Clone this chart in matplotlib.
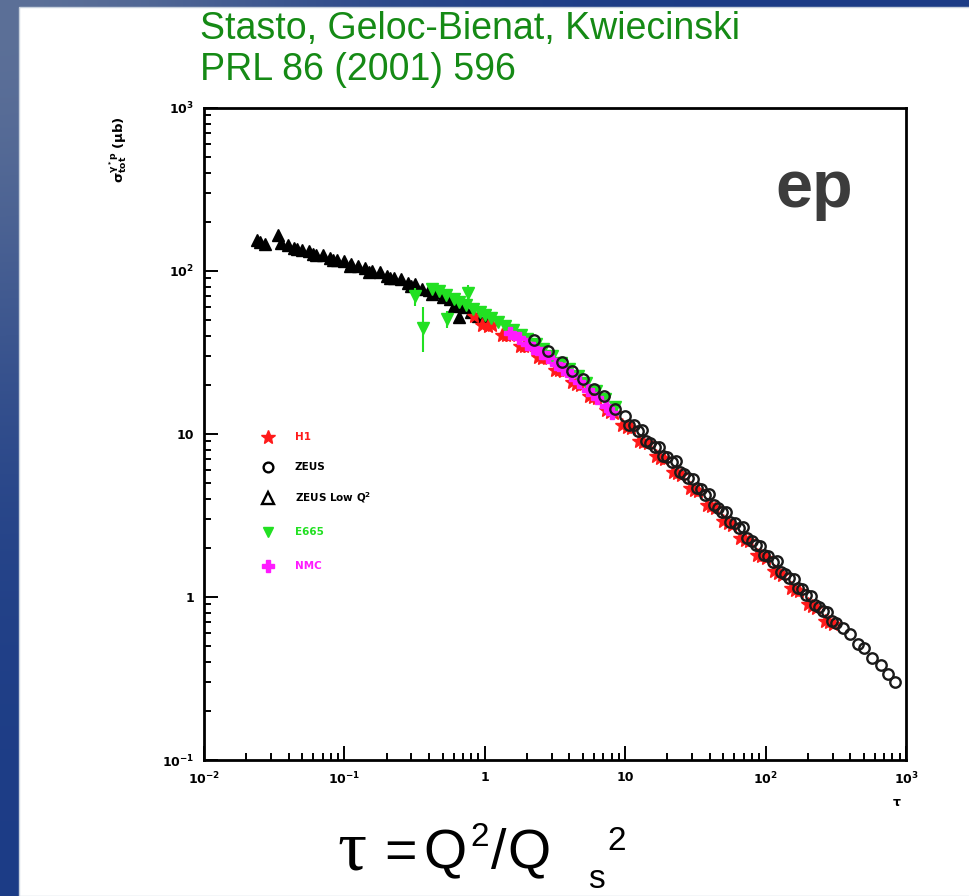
import numpy as np
import matplotlib
matplotlib.use("Agg")
import matplotlib.pyplot as plt
from matplotlib.patches import Rectangle
from matplotlib.ticker import NullFormatter, LogLocator

# ---------------- data ----------------
# ZEUS low Q^2
zeus_low_tau = [0.024, 0.0251, 0.027, 0.0339, 0.0355, 0.0398, 0.0437, 0.046, 0.0501, 0.0562,
                0.06, 0.0631, 0.0708, 0.0794, 0.083, 0.0891, 0.1, 0.11, 0.112, 0.126,
                0.141, 0.15, 0.158, 0.178, 0.2, 0.21, 0.224, 0.251, 0.282, 0.3,
                0.316, 0.355, 0.398, 0.42, 0.447, 0.501, 0.562, 0.6, 0.631, 0.66,
                0.708, 0.794, 0.891, 1.0]
zeus_low_sigma = [155, 151, 147, 166, 148, 145, 138, 137, 135, 132,
                  127, 126, 126, 120, 116, 117, 115, 108, 110, 107,
                  105, 99, 100, 99, 93, 90, 91, 89, 85, 81,
                  83, 78, 76, 72, 74, 69, 67, 61, 63, 52,
                  60, 56, 53, 50]

# E665
e665_tau = [0.32, 0.36, 0.42, 0.47, 0.53, 0.54, 0.60, 0.66, 0.74, 0.76,
            0.82, 0.92, 1.0, 1.1, 1.25, 1.4, 1.6, 1.8, 2.0, 2.3,
            2.6, 3.0, 3.5, 4.0, 4.6, 5.3, 6.2, 7.2, 8.5]
e665_sigma = [70, 45, 77.6, 75, 70.8, 51, 67.6, 64.6, 61.6, 73,
              58.8, 55.7, 53.7, 51.5, 48.5, 46, 43.5, 40.7, 38.4, 35.6,
              33.1, 30.2, 27.3, 25.1, 22.7, 20.6, 18.4, 16.5, 14.6]
# E665 points with visible error bars
e665_bar_tau = [0.32, 0.36, 0.54, 0.76]
e665_bar_sigma = [70, 45, 51, 73]
e665_bar_lo = [61, 32, 45, 64]
e665_bar_hi = [79, 60, 57, 82]

# NMC
nmc_tau = [1.5, 1.75, 2.0, 2.2, 2.5, 2.8, 3.2, 3.6, 4.1, 4.7, 5.4, 6.3, 7.3, 8.1]
nmc_sigma = [41.7, 38.9, 35.5, 33.9, 31.6, 29.5, 26.9, 25.1, 22.9, 20.9, 18.6, 16.6, 14.8, 13.5]

# H1
h1_tau = [0.832, 0.955, 1.047, 1.122, 1.318, 1.413, 1.514, 1.778, 1.905, 2.042,
          2.399, 2.57, 2.754, 3.162, 3.388, 3.631, 4.169, 4.467, 4.786, 5.495,
          5.888, 6.31, 7.244, 7.762, 8.318, 9.55, 10.23, 10.96, 12.59, 13.49,
          14.45, 16.6, 17.78, 19.05, 21.88, 23.44, 25.12, 28.84, 30.9, 33.11,
          38.02, 40.74, 43.65, 50.12, 53.7, 57.54, 66.07, 70.8, 75.86, 87.1,
          93.3, 100, 114.8, 123, 131.8, 151.4, 162.2, 173.8, 199.5, 213.8,
          229.1, 263, 281.8, 302]
h1_sigma = [53.2, 46.7, 46.3, 46.5, 40.4, 40.5, 40.6, 34.9, 34.8, 34.6,
            29.6, 29.4, 29.1, 24.8, 24.6, 24.3, 20.7, 20.4, 20.1, 17.1,
            16.8, 16.6, 14.0, 13.7, 13.5, 11.35, 11.1, 10.9, 9.12, 8.93,
            8.75, 7.31, 7.16, 7.01, 5.86, 5.74, 5.62, 4.67, 4.56, 4.45,
            3.69, 3.60, 3.52, 2.92, 2.85, 2.78, 2.31, 2.25, 2.20, 1.82,
            1.78, 1.74, 1.44, 1.41, 1.37, 1.14, 1.11, 1.09, 0.90, 0.88,
            0.86, 0.714, 0.70, 0.686]

# ZEUS
zeus_tau = [2.239, 2.818, 3.548, 4.169, 5.012, 6.026, 7.079, 8.511, 10, 10.72,
            11.48, 13.18, 14.13, 15.14, 17.38, 18.62, 19.95, 22.91, 24.55, 26.3,
            30.2, 32.36, 34.67, 39.81, 42.66, 45.71, 52.48, 56.23, 60.26, 69.18,
            74.13, 79.43, 91.2, 97.72, 104.7, 120.2, 128.8, 138, 158.5, 169.8,
            182, 208.9, 223.9, 239.9, 275.4, 295.1, 316.2, 354.8, 398.1, 457.1,
            501.2, 575.4, 660.7, 741.3, 831.8,
            12.3, 16.22, 21.38, 28.18, 37.15, 48.98, 64.57, 85.11, 112.2, 147.9,
            195, 257]
zeus_sigma = [37.8, 32.2, 27.7, 24.3, 21.9, 18.8, 17.1, 14.2, 12.9, 11.4,
              11.3, 10.6, 9.12, 8.83, 8.28, 7.31, 7.24, 6.79, 5.86, 5.66,
              5.27, 4.64, 4.58, 4.27, 3.67, 3.54, 3.30, 2.90, 2.86, 2.67,
              2.29, 2.21, 2.06, 1.81, 1.79, 1.67, 1.43, 1.38, 1.29, 1.13,
              1.12, 1.02, 0.896, 0.865, 0.809, 0.714, 0.692, 0.646, 0.589, 0.512,
              0.484, 0.421, 0.382, 0.337, 0.303,
              10.42, 8.36, 6.70, 5.34, 4.22, 3.34, 2.64, 2.09, 1.65, 1.31,
              1.03, 0.817]

x_ticks = [1e-2, 1e-1, 1, 10, 1e2, 1e3]
x_tick_labels = [r'$\mathbf{10^{-2}}$', r'$\mathbf{10^{-1}}$', '1', '10',
                 r'$\mathbf{10^{2}}$', r'$\mathbf{10^{3}}$']
y_ticks = [1e-1, 1, 10, 1e2, 1e3]
y_tick_labels = [r'$\mathbf{10^{-1}}$', '1', '10', r'$\mathbf{10^{2}}$', r'$\mathbf{10^{3}}$']

legend_labels = ['H1', 'ZEUS', r'ZEUS Low Q$^\mathbf{2}$', 'E665', 'NMC']

# ---------------- figure ----------------
W, H = 970, 896
fig = plt.figure(figsize=(W / 100, H / 100), dpi=100)


def fx(px):
    return px / W


def fy(py):
    return 1 - py / H


# blue slide background
bg = fig.add_axes([0, 0, 1, 1], zorder=-10)
bg.set_axis_off()
yy, xx = np.mgrid[0:1:300j, 0:1:300j]
base = np.array([28, 60, 134]) / 255.0
light = np.array([92, 112, 152]) / 255.0
wgt = np.exp(-(xx / 0.35) ** 2 - (yy / 0.45) ** 2)[..., None]
img = base * (1 - wgt) + light * wgt
bg.imshow(img, extent=[0, 1, 0, 1], origin='upper', aspect='auto')
bg.set_xlim(0, 1)
bg.set_ylim(0, 1)

# white panel
fig.patches.append(Rectangle((fx(19), 0), 1 - fx(19), fy(7), transform=fig.transFigure,
                             facecolor='white', edgecolor='#c9d2de', lw=1, zorder=-5))

# header
title_font = ['Liberation Sans Narrow', 'Liberation Sans', 'DejaVu Sans']
fig.text(fx(200), fy(39), 'Stasto, Geloc-Bienat, Kwiecinski', color='#158a15',
         fontsize=27, family=title_font, va='baseline', ha='left')
fig.text(fx(200), fy(80), 'PRL 86 (2001) 596', color='#158a15',
         fontsize=27, family=title_font, va='baseline', ha='left')

# main axes
ax = fig.add_axes([fx(204), fy(760), fx(906) - fx(204), fy(108) - fy(760)])
ax.set_xscale('log')
ax.set_yscale('log')
ax.set_xlim(1e-2, 1e3)
ax.set_ylim(1e-1, 1e3)

ax.plot(zeus_low_tau, zeus_low_sigma, ls='none', marker='^', ms=9, mfc='black',
        mec='black', zorder=3)
ax.plot(h1_tau, h1_sigma, ls='none', marker='*', ms=10, color='#ff1a1a', zorder=4)
ax.errorbar(e665_bar_tau, e665_bar_sigma,
            yerr=[np.array(e665_bar_sigma) - np.array(e665_bar_lo),
                  np.array(e665_bar_hi) - np.array(e665_bar_sigma)],
            fmt='none', ecolor='#22e022', elinewidth=1.5, capsize=0, zorder=5)
ax.plot(e665_tau, e665_sigma, ls='none', marker='v', ms=8, color='#22e022', zorder=5)
ax.plot(nmc_tau, nmc_sigma, ls='none', marker='P', ms=9, color='#ff1aff', zorder=6)
ax.plot(zeus_tau, zeus_sigma, ls='none', marker='o', ms=7.5, mfc='none', mec='#1a1a1a',
        mew=1.7, zorder=7)

for s in ax.spines.values():
    s.set_linewidth(2)
ax.tick_params(which='both', direction='in', top=False, right=False, width=1.4,
               labelsize=9)
ax.tick_params(which='major', length=10)
ax.tick_params(which='minor', length=5)
ax.tick_params(axis='x', pad=8)
ax.tick_params(axis='y', pad=7)
ax.set_xticks(x_ticks)
ax.set_xticklabels(x_tick_labels, fontweight='bold')
ax.set_yticks(y_ticks)
ax.set_yticklabels(y_tick_labels, fontweight='bold')
ax.xaxis.set_minor_locator(LogLocator(base=10, subs=np.arange(2, 10), numticks=20))
ax.yaxis.set_minor_locator(LogLocator(base=10, subs=np.arange(2, 10), numticks=20))
ax.xaxis.set_minor_formatter(NullFormatter())
ax.yaxis.set_minor_formatter(NullFormatter())

# legend entries
leg_styles = [dict(marker='*', ms=10, color='#ff1a1a'),
              dict(marker='o', ms=7, mfc='none', mec='black', mew=1.7),
              dict(marker='^', ms=8, mfc='none', mec='black', mew=1.7),
              dict(marker='v', ms=7, color='#22e022'),
              dict(marker='P', ms=9, color='#ff1aff')]
leg_colors = ['#ff1a1a', 'black', 'black', '#22e022', '#ff1aff']
leg_rows_px = [437, 467, 498, 532, 566]
for lab, sty, col, ry in zip(legend_labels, leg_styles, leg_colors, leg_rows_px):
    ay = (760 - ry) / (760 - 108)
    ax.plot([(268 - 204) / 702], [ay], transform=ax.transAxes, ls='none',
            clip_on=False, **sty)
    ax.text((295 - 204) / 702, ay, lab, transform=ax.transAxes, color=col,
            fontsize=7.5, fontweight='bold', va='center', ha='left')

# axis titles
fig.text(fx(118), fy(150), r'$\mathbf{\sigma^{\gamma^* p}_{tot}}$ ($\mathbf{\mu}$b)',
         rotation=90, fontsize=9.5, fontweight='bold', ha='center', va='center')
fig.text(fx(897), fy(803), r'$\mathbf{\tau}$', fontsize=9, ha='center', va='center')

fig.text(fx(775), fy(207), 'ep', fontsize=48, fontweight='bold', color='#3c3c3c',
         family=['Liberation Sans', 'DejaVu Sans'], va='baseline', ha='left')

# tau = Q^2 / Qs^2
big = ['Liberation Sans', 'DejaVu Sans']
fig.text(fx(337), fy(869), 'τ', fontsize=52, family=['Liberation Serif', 'DejaVu Serif'],
         va='baseline', ha='left')
fig.text(fx(384), fy(868), '=', fontsize=40, family=big, va='baseline', ha='left')
fig.text(fx(423), fy(868), 'Q', fontsize=40, family=big, va='baseline', ha='left')
fig.text(fx(470), fy(846), '2', fontsize=24, family=big, va='baseline', ha='left')
fig.text(fx(491), fy(868), '/', fontsize=40, family=big, va='baseline', ha='left')
fig.text(fx(507), fy(868), 'Q', fontsize=40, family=big, va='baseline', ha='left')
fig.text(fx(588), fy(888), 's', fontsize=24, family=big, va='baseline', ha='left')
fig.text(fx(607), fy(850), '2', fontsize=24, family=big, va='baseline', ha='left')

fig.savefig('out.png', dpi=100)
